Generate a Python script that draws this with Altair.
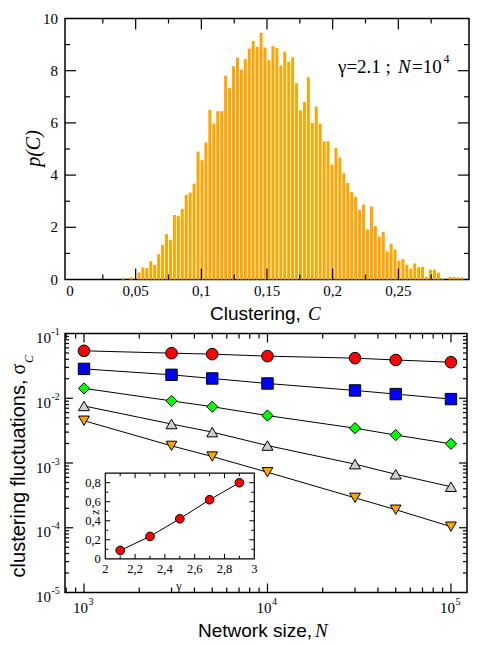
import altair as alt
import pandas as pd

SERIF = "Liberation Serif"
SANS = "Liberation Sans"

# ---------------- data: histogram of clustering (top panel) ----------------
hist_first_edge = 0.039      # left edge of the first listed bin
hist_bin_width = 0.003
hist_density = [0.06, 0.0, 0.09, 0.0, 0.27, 0.46, 0.44, 0.70, 0.56, 0.97,
                1.32, 1.74, 1.51, 2.47, 2.43, 2.70, 3.24, 3.33, 3.67, 4.90,
                4.57, 5.25, 6.50, 5.98, 6.45, 6.45, 7.81, 7.35, 8.17, 8.50,
                8.04, 8.44, 8.85, 9.14, 8.91, 9.45, 8.89, 8.40, 8.94, 8.87,
                8.20, 8.73, 8.34, 8.51, 7.52, 6.48, 6.80, 7.75, 6.00, 6.63,
                5.97, 5.29, 5.30, 4.40, 5.04, 4.67, 4.07, 3.70, 3.35, 3.17,
                2.67, 2.87, 1.92, 2.80, 2.05, 1.65, 1.82, 1.08, 1.37, 1.15,
                0.72, 0.78, 0.57, 0.42, 0.61, 0.47, 0.48, 0.10, 0.38, 0.38,
                0.26, 0.05, 0.0, 0.10, 0.10, 0.08, 0.08]

top_x_labels = [0, 0.05, 0.1, 0.15, 0.2, 0.25]
top_x_major = [0.05, 0.1, 0.15, 0.2, 0.25]
top_x_minor = [0.025, 0.075, 0.125, 0.175, 0.225, 0.275]
top_y_labels = [0, 2, 4, 6, 8, 10]
top_y_major = [2, 4, 6, 8]
top_y_minor = [1, 3, 5, 7, 9]

# ---------------- data: clustering fluctuations (bottom panel) ----------------
network_size = [1000, 3000, 5000, 10000, 30000, 50000, 100000]
gamma_series = ["2.1", "2.3", "2.5", "2.7", "2.9"]
sigma_g21 = [0.054, 0.0497, 0.048, 0.0447, 0.0416, 0.039, 0.036]
sigma_g23 = [0.0284, 0.023, 0.0202, 0.0169, 0.0132, 0.0116, 0.0097]
sigma_g25 = [0.0142, 0.0091, 0.0074, 0.0054, 0.00345, 0.0027, 0.00198]
sigma_g27 = [0.0076, 0.0040, 0.0030, 0.00186, 0.00096, 0.00067, 0.00043]
sigma_g29 = [0.0045, 0.00184, 0.00126, 0.00072, 0.00029, 0.00019, 0.000104]
series_colors = ["#FF0000", "#0000FF", "#00FF00", "#D0D0D0", "#FFA500"]
series_shapes = ["circle", "square", "diamond", "triangle-up", "triangle-down"]
series_sizes = [135, 115, 145, 160, 160]

bottom_x_labels = [1e3, 1e4, 1e5]
bottom_x_exps = ["3", "4", "5"]
bottom_x_minor = [800, 900, 2000, 3000, 4000, 5000, 6000, 7000, 8000, 9000,
                  20000, 30000, 40000, 50000, 60000, 70000, 80000, 90000]
bottom_y_labels = [1e-5, 1e-4, 1e-3, 1e-2, 1e-1]
bottom_y_exps = ["-5", "-4", "-3", "-2", "-1"]
bottom_y_major = [1e-4, 1e-3, 1e-2]
bottom_y_minor = [k * 10.0 ** e for e in range(-5, -1) for k in range(2, 10)]

# ---------------- data: inset (exponent z vs gamma) ----------------
inset_gamma = [2.1, 2.3, 2.5, 2.7, 2.9]
inset_z = [0.088, 0.235, 0.421, 0.621, 0.80]
inset_x_labels = [2, 2.2, 2.4, 2.6, 2.8, 3]
inset_x_major = [2.2, 2.4, 2.6, 2.8]
inset_x_minor = [2.1, 2.3, 2.5, 2.7, 2.9]
inset_y_labels = [0, 0.2, 0.4, 0.6, 0.8]
inset_y_major = [0.2, 0.4, 0.6, 0.8]
inset_y_minor = [0.1, 0.3, 0.5, 0.7]

# ---------------- layout constants ----------------
W1, H1 = 404, 261
W2, H2 = 402, 259
IN_L, IN_R, IN_T, IN_B = 40.3, 189.3, 139.7, 225.3


def x_ticks(values, scale, length, y_bot, y_top, sw=1.2):
    df = pd.DataFrame({"v": values})
    ex = alt.X("v:Q", scale=scale, axis=None)
    b = alt.Chart(df).mark_rule(color="black", strokeWidth=sw).encode(
        x=ex, y=alt.value(y_bot), y2=alt.value(y_bot - length))
    t = alt.Chart(df).mark_rule(color="black", strokeWidth=sw).encode(
        x=ex, y=alt.value(y_top), y2=alt.value(y_top + length))
    return [b, t]


def y_ticks(values, scale, length, x_left, x_right, sw=1.2):
    df = pd.DataFrame({"v": values})
    ey = alt.Y("v:Q", scale=scale, axis=None)
    l = alt.Chart(df).mark_rule(color="black", strokeWidth=sw).encode(
        y=ey, x=alt.value(x_left), x2=alt.value(x_left + length))
    r = alt.Chart(df).mark_rule(color="black", strokeWidth=sw).encode(
        y=ey, x=alt.value(x_right), x2=alt.value(x_right - length))
    return [l, r]


def x_labels(values, texts, scale, y, size=15, dx=0, align="center", baseline="middle"):
    df = pd.DataFrame({"v": values, "t": texts})
    return alt.Chart(df).mark_text(font=SERIF, fontSize=size, color="black", align=align,
                                   baseline=baseline, dx=dx).encode(
        x=alt.X("v:Q", scale=scale, axis=None), y=alt.value(y), text="t:N")


def y_labels(values, texts, scale, x, size=15, dy=0, align="right", baseline="middle"):
    df = pd.DataFrame({"v": values, "t": texts})
    return alt.Chart(df).mark_text(font=SERIF, fontSize=size, color="black", align=align,
                                   baseline=baseline, dy=dy).encode(
        y=alt.Y("v:Q", scale=scale, axis=None), x=alt.value(x), text="t:N")


def text(t, x, y, size, font=SERIF, style="normal", angle=0, align="left",
         baseline="alphabetic"):
    return alt.Chart(pd.DataFrame({"t": [t]})).mark_text(
        font=font, fontSize=size, fontStyle=style, angle=angle, align=align,
        baseline=baseline, color="black"
    ).encode(text="t:N", x=alt.value(x), y=alt.value(y))


def comma(v):
    return str(v).replace(".", ",")


# ================= top panel =================
hist_df = pd.DataFrame({
    "C": [hist_first_edge + hist_bin_width * (i + 0.5) for i in range(len(hist_density))],
    "p": hist_density,
})
hist_df = hist_df[hist_df.p > 0]

xs1 = alt.Scale(domain=[0, 0.3], nice=False, zero=False)
ys1 = alt.Scale(domain=[0, 10], nice=False)

bars = alt.Chart(hist_df).mark_bar(size=3, color="#FFA500").encode(
    x=alt.X("C:Q", scale=xs1, axis=None),
    y=alt.Y("p:Q", scale=ys1, axis=None),
)

top_layers = [bars]
top_layers += x_ticks(top_x_major, xs1, 11, H1, 0)
top_layers += x_ticks(top_x_minor, xs1, 5, H1, 0)
top_layers += y_ticks(top_y_major, ys1, 11, 0, W1)
top_layers += y_ticks(top_y_minor, ys1, 5, 0, W1)
top_layers += [
    x_labels(top_x_labels, [comma(v) for v in top_x_labels], xs1, H1 + 11),
    y_labels(top_y_labels, [str(v) for v in top_y_labels], ys1, -7),
    text("p(C)", -31.5, 130, 20, SERIF, "italic", angle=270, align="center", baseline="middle"),
    text("γ=2.1 ;", 273, 54.7, 19, SERIF),
    text("N", 333, 54.7, 19, SERIF, "italic"),
    text("=10", 347, 54.7, 19, SERIF),
    text("4", 378.5, 44.5, 12, SERIF),
]
top = alt.layer(*top_layers).properties(width=W1, height=H1)

# ================= bottom panel =================
rows = []
for name, vals in zip(gamma_series, [sigma_g21, sigma_g23, sigma_g25, sigma_g27, sigma_g29]):
    for n, s in zip(network_size, vals):
        rows.append({"N": n, "sigma": s, "gamma": name})
fl_df = pd.DataFrame(rows)

xs2 = alt.Scale(type="log", domain=[788, 122300], nice=False)
ys2 = alt.Scale(type="log", domain=[1e-5, 1e-1], nice=False)

lines = alt.Chart(fl_df).mark_line(color="black", strokeWidth=1).encode(
    x=alt.X("N:Q", scale=xs2, axis=None),
    y=alt.Y("sigma:Q", scale=ys2, axis=None),
    detail="gamma:N",
)
points = alt.Chart(fl_df).mark_point(filled=True, opacity=1, stroke="black", strokeWidth=1).encode(
    x=alt.X("N:Q", scale=xs2, axis=None),
    y=alt.Y("sigma:Q", scale=ys2, axis=None),
    fill=alt.Fill("gamma:N", scale=alt.Scale(domain=gamma_series, range=series_colors), legend=None),
    shape=alt.Shape("gamma:N", scale=alt.Scale(domain=gamma_series, range=series_shapes), legend=None),
    size=alt.Size("gamma:N", scale=alt.Scale(domain=gamma_series, range=series_sizes), legend=None),
)

main_layers = [lines, points]
main_layers += x_ticks(bottom_x_labels, xs2, 9, H2, 0)
main_layers += x_ticks(bottom_x_minor, xs2, 5, H2, 0)
main_layers += y_ticks(bottom_y_major, ys2, 8, 0, W2)
main_layers += y_ticks(bottom_y_minor, ys2, 4, 0, W2)
main_layers += [
    x_labels(bottom_x_labels, ["10"] * len(bottom_x_labels), xs2, H2 + 15.7, dx=4, align="right"),
    x_labels(bottom_x_labels, bottom_x_exps, xs2, H2 + 9, size=10, dx=4.5, align="left"),
    y_labels(bottom_y_labels, ["10"] * len(bottom_y_labels), ys2, -14, dy=4.5),
    y_labels(bottom_y_labels, bottom_y_exps, ys2, -13.5, size=10, dy=-1.5, align="left"),
    # x title of the top panel (kept here so the panel gap is controlled)
    text("Clustering,", 145, -14, 19, SANS),
    text("C", 243, -14, 19, SERIF, "italic"),
    text("Network size,", 133, 303, 19, SANS),
    text("N", 250, 303, 19, SERIF, "italic"),
    text("clustering fluctuations,", -40, 46, 20, SANS, angle=270, align="right"),
    text("σ", -40, 41, 20, SERIF, angle=270, align="left"),
    text("C", -32, 29.5, 12, SERIF, "italic", angle=270, align="left"),
]
main = alt.layer(*main_layers)

# ---- inset ----
xs_in = alt.Scale(domain=[2, 3], range=[IN_L, IN_R], nice=False, zero=False)
ys_in = alt.Scale(domain=[0, 0.9], range=[IN_B, IN_T], nice=False, zero=False)

frame_df = pd.DataFrame({"x0": [2], "x1": [3], "y0": [0], "y1": [0.9]})
inset_frame = alt.Chart(frame_df).mark_rect(fill="white", stroke="black", strokeWidth=1.2).encode(
    x=alt.X("x0:Q", scale=xs_in, axis=None), x2="x1:Q",
    y=alt.Y("y0:Q", scale=ys_in, axis=None), y2="y1:Q",
)
inset_df = pd.DataFrame({"g": inset_gamma, "z": inset_z})
inset_line = alt.Chart(inset_df).mark_line(color="black", strokeWidth=1).encode(
    x=alt.X("g:Q", scale=xs_in, axis=None), y=alt.Y("z:Q", scale=ys_in, axis=None))
inset_pts = alt.Chart(inset_df).mark_point(filled=True, opacity=1, fill="#FF0000", stroke="black",
                                           strokeWidth=1, size=75, shape="circle").encode(
    x=alt.X("g:Q", scale=xs_in, axis=None), y=alt.Y("z:Q", scale=ys_in, axis=None))

inset_layers = [inset_frame, inset_line, inset_pts,
                x_labels(inset_x_labels, [comma(v) for v in inset_x_labels], xs_in, IN_B + 14.4,
                         size=12.5, baseline="alphabetic"),
                y_labels(inset_y_labels, [comma(v) for v in inset_y_labels], ys_in, IN_L - 4.5,
                         size=12.5)]
inset_layers += x_ticks(inset_x_major, xs_in, 5, IN_B, IN_T, 1)
inset_layers += x_ticks(inset_x_minor, xs_in, 3, IN_B, IN_T, 1)
inset_layers += y_ticks(inset_y_major, ys_in, 5, IN_L, IN_R, 1)
inset_layers += y_ticks(inset_y_minor, ys_in, 3, IN_L, IN_R, 1)
inset_layers += [
    text("z", 30, 178.5, 12, SERIF, angle=270, align="center", baseline="middle"),
    text("γ", 114, 252, 12, SERIF, align="center", baseline="middle"),
]
inset = alt.layer(*inset_layers)

bottom = alt.layer(main, inset).resolve_scale(x="independent", y="independent").properties(
    width=W2, height=H2)

chart = alt.vconcat(top, bottom, spacing=4).properties(
    padding={"left": 0, "right": 0, "top": 2.5, "bottom": 0}
).configure_view(stroke="black", strokeWidth=1.5)

chart.save("out.html", embed_options={"renderer": "svg", "actions": False})
